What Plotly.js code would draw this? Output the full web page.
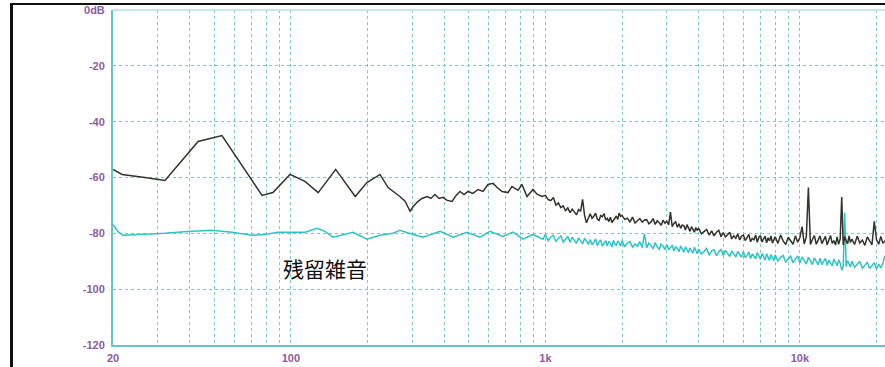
<!DOCTYPE html>
<html>
<head>
<meta charset="utf-8">
<script src="https://cdn.plot.ly/plotly-3.0.1.min.js"></script>
<style>
html,body{margin:0;padding:0;background:#fff;}
#wrap{position:relative;width:885px;height:367px;overflow:hidden;}
#chart{width:885px;height:367px;}
#frame{position:absolute;left:10px;top:3px;right:-10px;bottom:-10px;border-left:3px solid #111;border-top:2px solid #111;pointer-events:none;}
</style>
</head>
<body>
<div id="wrap"><div id="chart"></div><div id="frame"></div></div>
<script>
// ---- data (Hz, dB) ----
var blackLoFreq = [20,21.7,26.7,32,43.2,53.6,77,85,99.2,113.6,128,150,179,199,224,241,268,281,294,302,313,327,343,355,368,382,396,411,430,445,462,479,497,519,544,569,595,623,645,676,713,739,759,781,809,847,894,927,970];
var blackLoDb   = [-57.1,-58.9,-60.0,-61.1,-47.1,-45.0,-66.4,-65.4,-58.9,-61.4,-65.4,-57.1,-66.8,-61.8,-58.9,-63.6,-66.8,-68.5,-72.1,-70.5,-68.9,-67.5,-66.8,-67.5,-66.1,-67.5,-67.1,-68.2,-68.6,-66.5,-65.0,-66.1,-65.0,-65.7,-64.3,-65.0,-62.5,-62.1,-63.5,-65.0,-65.4,-63.2,-63.9,-64.6,-62.5,-66.8,-64.3,-66.0,-66.8];

var cyanLoFreq = [20,20.9,21.9,26.7,32,39.4,49,58.7,70.4,79.1,89,101,113.6,126.7,136.1,146.4,160.2,175.4,199,224,252,268,302,330,386,434,492,553,606,681,746,817,894,979];
var cyanLoDb   = [-76.8,-79.3,-80.7,-80.4,-80.0,-79.3,-78.9,-79.6,-80.7,-80.4,-79.6,-79.6,-79.6,-78.2,-79.3,-81.4,-80.4,-79.6,-82.1,-80.7,-80.0,-78.9,-80.4,-81.4,-79.3,-81.4,-79.6,-81.4,-79.3,-81.1,-79.6,-82.1,-80.4,-82.1];

var freqHi = [1000,1025,1050,1075,1100,1125,1150,1175,1200,1225,
1250,1275,1300,1325,1350,1375,1400,1425,1450,1475,
1500,1525,1550,1575,1600,1625,1650,1675,1700,1725,
1750,1775,1800,1825,1850,1875,1900,1925,1950,1975,
2000,2050,2100,2150,2200,2250,2300,2350,2400,2450,
2500,2550,2600,2650,2700,2750,2800,2850,2900,2950,
3000,3050,3100,3150,3200,3250,3300,3350,3400,3450,
3500,3550,3600,3650,3700,3750,3800,3850,3900,3950,
4000,4100,4200,4300,4400,4500,4600,4700,4800,4900,
5000,5100,5200,5300,5400,5500,5600,5700,5800,5900,
6000,6100,6200,6300,6400,6500,6600,6700,6800,6900,
7000,7100,7200,7300,7400,7500,7600,7700,7800,7900,
8000,8200,8400,8600,8800,9000,9200,9400,9600,9800,
10000,10200,10400,10600,10800,11000,11200,11400,11600,11800,
12000,12200,12400,12600,12800,13000,13200,13400,13600,13800,
14000,14200,14400,14600,14800,15000,15200,15400,15600,15800,
16000,16400,16800,17200,17600,18000,18400,18800,19200,19600,20000,20400,20800,21200,21600];

var blackHiDb = [-66.4,-67.9,-68.3,-67.2,-69.9,-69.1,-70.8,-70.2,-71.9,-70.9,
-72.6,-71.3,-72.2,-73.4,-71.5,-72.1,-67.8,-73.5,-76.2,-74.4,
-73.0,-74.6,-73.9,-72.8,-74.9,-75.4,-73.6,-74.1,-72.9,-75.2,
-74.6,-75.8,-74.2,-76.1,-75.5,-74.6,-73.8,-75.0,-72.7,-73.9,
-73.6,-75.0,-74.6,-75.9,-74.2,-76.3,-75.5,-74.7,-76.0,-75.2,
-75.1,-76.6,-75.9,-74.7,-76.8,-75.5,-76.2,-77.1,-75.3,-76.4,
-75.6,-77.0,-72.4,-77.6,-76.4,-75.9,-77.8,-76.6,-78.2,-77.0,
-77.3,-78.8,-76.9,-78.2,-79.3,-77.6,-78.6,-79.6,-77.9,-79.0,
-78.1,-80.2,-79.4,-78.6,-80.6,-79.1,-80.9,-79.6,-78.9,-81.2,
-79.7,-81.3,-80.5,-79.6,-82.0,-80.9,-81.8,-80.2,-82.4,-81.0,
-80.6,-82.6,-81.5,-80.4,-83.0,-81.8,-82.3,-80.6,-83.2,-81.4,
-80.8,-83.1,-82.0,-81.0,-83.4,-81.6,-82.7,-80.9,-83.5,-82.2,
-81.2,-83.6,-80.6,-82.8,-84.0,-81.4,-82.5,-83.9,-80.9,-83.2,
-81.5,-77.6,-83.8,-81.2,-63.6,-84.0,-82.2,-80.8,-83.9,-82.4,
-80.9,-83.7,-82.5,-81.1,-84.1,-82.0,-80.8,-83.6,-82.6,-84.2,
-81.3,-83.9,-82.0,-67.0,-84.2,-81.2,-82.9,-83.8,-80.9,-83.3,
-82.1,-84.0,-81.0,-83.5,-82.4,-84.3,-81.3,-83.0,-84.1,-75.7,-82.2,-83.9,-81.1,-83.6,-82.6];

var cyanHiDb = [-80.4,-82.6,-81.3,-80.7,-82.9,-81.8,-80.9,-83.1,-82.0,-81.2,
-83.2,-81.4,-82.5,-83.6,-81.6,-82.9,-83.8,-81.9,-82.6,-84.0,
-82.2,-84.1,-83.3,-82.0,-84.4,-83.1,-82.4,-84.6,-83.5,-82.6,
-84.5,-82.8,-83.6,-84.9,-82.5,-83.9,-84.3,-82.7,-83.4,-84.6,
-82.6,-84.8,-83.4,-82.9,-85.0,-83.8,-84.6,-83.0,-85.1,-80.2,
-85.2,-83.5,-84.4,-85.6,-83.3,-84.9,-85.7,-83.9,-84.6,-85.8,
-84.0,-85.9,-85.1,-84.2,-86.3,-84.7,-85.5,-86.6,-84.5,-85.8,
-86.8,-84.9,-85.7,-87.0,-85.2,-86.2,-87.1,-85.0,-86.4,-87.3,
-85.6,-87.4,-86.5,-85.4,-87.8,-86.3,-85.9,-88.0,-86.7,-85.8,
-87.9,-86.1,-87.2,-88.3,-86.3,-87.6,-88.5,-86.5,-87.4,-88.6,
-86.6,-88.7,-87.8,-86.7,-89.0,-87.4,-88.2,-89.1,-86.9,-88.4,
-89.3,-87.2,-88.4,-89.6,-87.3,-88.8,-89.7,-87.6,-88.5,-89.8,
-87.7,-89.9,-88.6,-87.9,-90.3,-89.0,-88.2,-90.5,-89.3,-88.1,
-90.6,-88.4,-89.7,-91.0,-88.6,-90.1,-91.2,-88.8,-89.9,-91.3,
-88.9,-91.2,-90.0,-89.0,-91.5,-89.6,-90.6,-91.7,-89.2,-90.4,
-91.6,-89.5,-90.7,-93.2,-91.8,-72.5,-91.9,-89.8,-90.9,-92.0,
-90.0,-92.2,-91.0,-90.2,-92.5,-91.3,-90.4,-92.6,-91.4,-90.5,-92.8,-91.0,-92.4,-90.6,-88.0];

var xGridVals = [20,30,40,50,60,70,80,90,100,200,300,400,500,600,700,800,900,1000,2000,3000,4000,5000,6000,7000,8000,9000,10000,20000];
var xTickText = ['20','','','','','','','','100','','','','','','','','','1k','','','','','','','','','10k',''];
var yTickVals = [0,-20,-40,-60,-80,-100,-120];
var yTickText = ['0dB','-20','-40','-60','-80','-100','-120'];
var noteText = '残留雑音';

// ---- chart ----
var gridColor = '#7cc9c9';
var labelFont = {family:'Liberation Sans, Arial, sans-serif', size:11, color:'#8e5aa0', weight:'bold'};

var traces = [
  {x: cyanLoFreq.concat(freqHi), y: cyanLoDb.concat(cyanHiDb), type:'scatter', mode:'lines',
   line:{color:'#2ec3c6', width:1.5}, hoverinfo:'skip'},
  {x: blackLoFreq.concat(freqHi), y: blackLoDb.concat(blackHiDb), type:'scatter', mode:'lines',
   line:{color:'#33332b', width:1.5}, hoverinfo:'skip'}
];

var layout = {
  width:885, height:367,
  margin:{l:113, r:0, t:10, b:22, pad:0},
  paper_bgcolor:'#ffffff', plot_bgcolor:'#ffffff',
  showlegend:false,
  xaxis:{
    type:'log', range:[Math.log10(20), Math.log10(20)+772/254.5],
    tickmode:'array', tickvals:xGridVals, ticktext:xTickText,
    showgrid:true, gridcolor:gridColor, gridwidth:1, griddash:'3px,3px',
    showline:true, linecolor:'#66c6c6', linewidth:2,
    zeroline:false, ticks:'', ticklabelstandoff:2,
    tickfont:labelFont, fixedrange:true
  },
  yaxis:{
    range:[-120,0],
    tickmode:'array', tickvals:yTickVals, ticktext:yTickText,
    showgrid:true, gridcolor:gridColor, gridwidth:1, griddash:'3px,3px',
    showline:true, linecolor:'#66c6c6', linewidth:2,
    zeroline:true, zerolinecolor:'#c4e9e9', zerolinewidth:2,
    ticks:'', ticklabelstandoff:4,
    tickfont:labelFont, fixedrange:true
  },
  annotations:[{
    text: noteText, xref:'paper', yref:'paper', x:0.2746, y:0.2299,
    xanchor:'center', yanchor:'middle', showarrow:false,
    font:{family:'Noto Sans CJK JP, sans-serif', size:21, color:'#111111'}
  }]
};

Plotly.newPlot('chart', traces, layout, {staticPlot:true, displayModeBar:false});
</script>
</body>
</html>
